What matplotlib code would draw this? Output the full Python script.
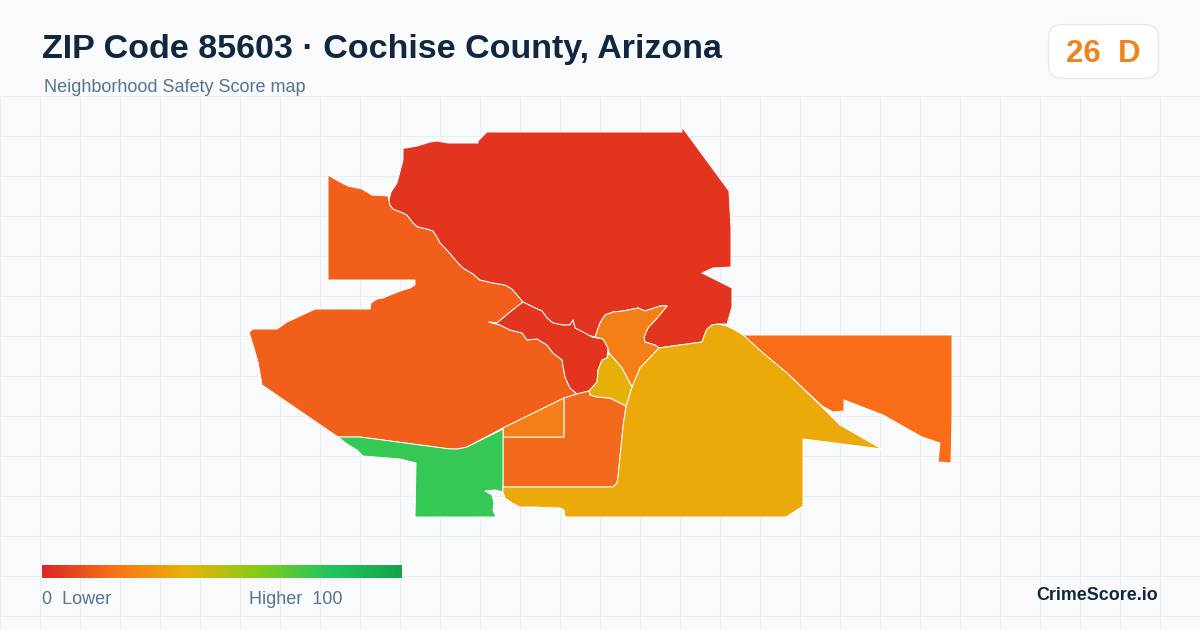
import numpy as np
import matplotlib
matplotlib.use("Agg")
import matplotlib.pyplot as plt
from matplotlib.patches import Polygon, FancyBboxPatch
from matplotlib.colors import LinearSegmentedColormap

### Constants
TITLE = "ZIP Code 85603 · Cochise County, Arizona"
SUBTITLE = "Neighborhood Safety Score map"
SCORE_TEXT = "26  D"
BRAND = "CrimeScore.io"

BG = "#f8fafc"
GRID = "#e8eff3"

# map outlines (pixel coords)
# border between the north red zone and the west orange zone, going north-west
red_orange_edge = [(523,302),(512,289),(505,285),(493,283),(480,280),(473,274),(463,268),(458,263),(447,250),
                   (440,243),(437,237),(433,231),(427,229),(418,227),(413,223),(407,215),(403,213),(393,209),
                   (390,205),(389,200)]
north_red = [(403,148),(406,148),(417,146),(430,142),(437,141),(448,143),(478,143),(478,141),(487,132),
             (682,132),(682,127),(729,191),(731,228),(731,267),(713,268),(702,273),(732,288),(732,307),
             (727,324),(718,324),(712,325),(707,329),(704,336),(702,342),(680,345),(658,348),(655,345),(645,342),
             (644,337),(648,328),(658,317),(667,306),(660,306),(645,311),(638,308),(623,311),(613,312),
             (605,315),(600,323),(595,337),(587,335),(580,331),(575,328),(573,320),(570,325),(562,325),
             (553,323),(547,318),(542,311),(535,308)] + red_orange_edge + [(391,192),(397,183),(403,160)]
centre_red = [(523,302),(535,308),(542,311),(547,318),(553,323),(562,325),(570,325),(573,320),(575,328),
              (583,332),(592,337),(603,339),(608,348),(607,358),(602,360),(598,370),(597,382),(589,391),
              (577,394),(570,388),(565,377),(562,360),(553,353),(547,345),(537,339),(527,340),(522,333),
              (510,330),(500,325),(489,322),(497,323),(510,312)]
west_orange = [(328,175),(340,182),(348,186),(362,189),(372,195),(388,196)] + red_orange_edge[::-1] + [
               (510,312),(497,323),(489,322),(500,325),(510,330),(522,333),(527,340),
               (537,339),(547,345),(553,353),(562,360),(565,377),(570,388),(577,394),(564,398),(503,428),
               (467,447),(458,449),(450,449),(360,437),(338,437),(262,385),(258,362),(253,345),(249,332),
               (253,329),(263,329),(277,329),(287,322),(298,317),(315,309),(370,309),(371,303),(377,299),
               (383,298),(390,295),(403,290),(410,288),(415,285),(415,280),(328,280)]
south_orange = [(564,398),(577,394),(589,391),(590,395),(597,397),(610,398),(626,406),(623,427),(618,477),
                (617,483),(613,487),(503,487),(503,437),(564,437)]
small_orange = [(503,437),(503,428),(564,398),(564,437)]
green_zone = [(338,437),(360,437),(450,449),(458,449),(467,447),(503,429),(503,492),(495,490),(485,491),
              (492,495),(494,503),(493,510),(496,517),(415,517),(416,463),(400,459),(363,456),(357,450),
              (347,444)]
big_yellow = [(503,487),(613,487),(617,483),(618,477),(623,427),(626,406),(632,387),(640,368),(659,348),
              (680,345),(702,342),(704,336),(707,329),(712,325),(718,324),(727,326),(735,330),(743,335),(763,353),(787,373),
              (820,405),(840,425),(882,449),(803,439),(803,506),(786,517),(565,517),(564,510),(560,508),
              (533,507),(520,507),(512,503),(505,498),(503,492)]
small_yellow = [(609,353),(622,368),(632,387),(626,406),(610,398),(597,397),(590,395),(589,391),(597,382),
                (598,370),(602,360),(607,358)]
mid_orange = [(595,337),(603,339),(608,348),(609,353),(622,368),(632,387),(640,368),(659,348),(655,345),
              (645,342),(644,337),(648,328),(658,317),(667,306),(660,306),(645,311),(638,308),(623,311),
              (613,312),(605,315),(600,323)]
east_orange = [(743,335),(818,335),(923,335),(952,335),(952,420),(951,463),(938,462),(940,443),(922,437),
               (883,415),(844,400),(844,411),(833,412),(822,406),(787,373),(763,353)]

zones = [
    (west_orange, "#f25f1a"),
    (north_red, "#e2341f"),
    (centre_red, "#e2341f"),
    (east_orange, "#f96d19"),
    (south_orange, "#f46a1c"),
    (small_orange, "#f57f17"),
    (mid_orange, "#f57f17"),
    (green_zone, "#35c854"),
    (big_yellow, "#ebaa0a"),
    (small_yellow, "#e6b00b"),
]

legend_stops = [0, 0.2, 0.4, 0.6, 0.8, 1]
legend_colors = ["#dc2626", "#f97316", "#eab308", "#84cc16", "#22c55e", "#16a34a"]

#################################

plt.rcParams["font.family"] = ["Liberation Sans", "DejaVu Sans"]

fig = plt.figure(figsize=(12, 6.3), dpi=100, facecolor=BG)
ax = fig.add_axes([0, 0, 1, 1])
ax.set_facecolor(BG)
ax.axis("off")

# background grid, only below the header
ax.vlines(np.arange(0, 1200, 40), 96, 630, color=GRID, lw=0.8, zorder=1)
ax.hlines(np.arange(96, 630, 40), 0, 1200, color=GRID, lw=0.8, zorder=1)

for outline, color in zones:
    ax.add_patch(Polygon(outline, closed=True, facecolor=color, edgecolor="white", lw=0.7,
                         joinstyle="round", zorder=2))

# header
ax.text(42, 49.5, TITLE, fontsize=24.5, fontweight="bold", color="#12263f", va="center", ha="left")
ax.text(44, 87, SUBTITLE, fontsize=13, color="#5a7190", va="center", ha="left")

# score badge
ax.add_patch(FancyBboxPatch((1060.5, 36.5), 86, 30, boxstyle="round,pad=12,rounding_size=14",
                            facecolor="white", edgecolor="#e2e8f0", lw=0.9, zorder=3))
ax.text(1103, 53.5, SCORE_TEXT, fontsize=22.5, fontweight="bold", color="#f0841c",
        va="center", ha="center", zorder=4)

# legend bar
cmap = LinearSegmentedColormap.from_list("score", list(zip(legend_stops, legend_colors)))
ax.imshow(np.linspace(0, 1, 360).reshape(1, -1), cmap=cmap, extent=(42, 402, 578, 565),
          aspect="auto", zorder=3)
ax.text(42, 599, "0  Lower", fontsize=13, color="#5a7190", va="center", ha="left")
ax.text(249, 599, "Higher  100", fontsize=13, color="#5a7190", va="center", ha="left")

ax.text(1158, 595, BRAND, fontsize=12.9, fontweight="bold", color="#12263f", va="center", ha="right")

ax.set_xlim(0, 1200)
ax.set_ylim(630, 0)

fig.savefig("out.png", dpi=100, facecolor=BG)
